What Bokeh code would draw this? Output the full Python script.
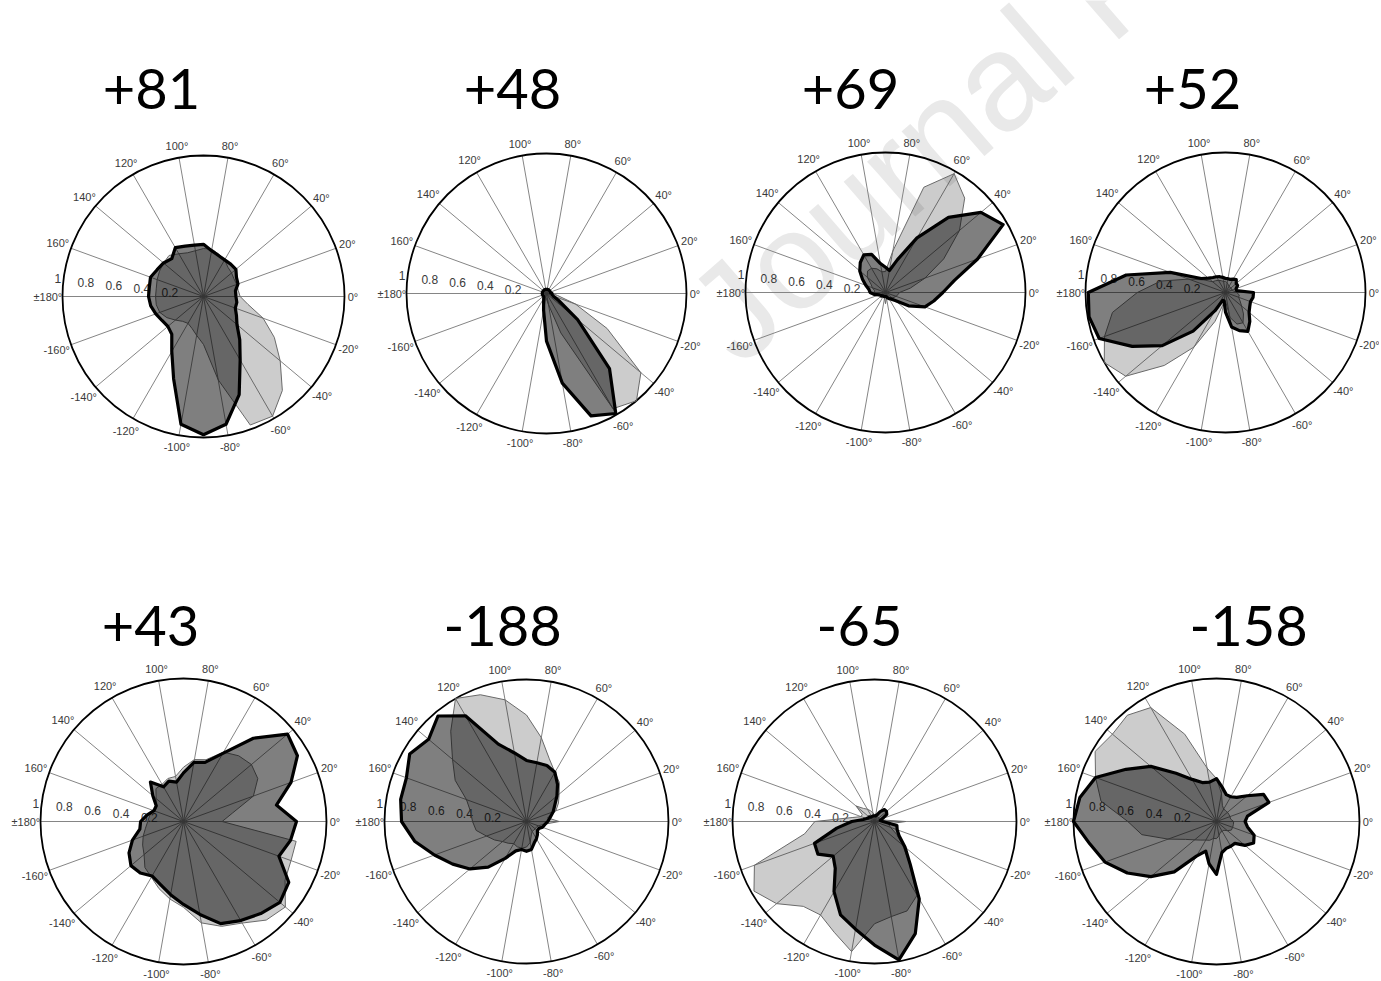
import math
from bokeh.plotting import figure
from bokeh.models import Range1d
from bokeh.embed import file_html
from bokeh.resources import INLINE
from bokeh.core.properties import value

# ---------------- data ----------------
ANGLES = list(range(-180, 180, 10))          # sample directions (deg)
GRID_ANGLES = list(range(-180, 180, 20))     # spokes (deg)
GRID_LABELS = ["±180°", "-160°", "-140°", "-120°", "-100°", "-80°", "-60°", "-40°", "-20°",
               "0°", "20°", "40°", "60°", "80°", "100°", "120°", "140°", "160°"]
R_TICKS = [0.2, 0.4, 0.6, 0.8, 1.0]
R_TICK_LABELS = ["0.2", "0.4", "0.6", "0.8", "1"]
TITLES = ["+81", "+48", "+69", "+52", "+43", "-188", "-65", "-158"]

LIGHT_P81 = [.34, .34, .33, .30, .26, .23, .22, .24, .28, .34, .60, .97, .98, .87, .71, .58, .45, .32,
             .26, .25, .25, .25, .26, .27, .30, .32, .34, .34, .33, .33, .35, .38, .37, .36, .35, .34]
DARK_P81 = [.39, .38, .36, .34, .33, .35, .45, .62, .92, .98, .92, .74, .52, .40, .31, .27, .24, .24,
            .23, .23, .26, .27, .30, .30, .30, .31, .33, .37, .37, .38, .40, .35, .37, .38, .40, .39]

LIGHT_P48 = [.03, .03, .03, .03, .03, .03, .03, .03, .03, .04, .08, .30, .95, 1.0, .88, .50, .22, .08,
             .04, .03, .03, .03, .03, .03, .03, .03, .03, .03, .03, .03, .03, .03, .03, .03, .03, .03]
DARK_P48 = [.03, .03, .03, .03, .03, .03, .04, .06, .12, .34, .65, .93, .99, .70, .29, .10, .05, .04,
            .04, .03, .03, .03, .03, .03, .03, .03, .03, .03, .03, .03, .03, .03, .03, .03, .03, .03]

LIGHT_P69 = [.08, .05, .04, .04, .04, .04, .04, .04, .04, .08, .04, .04, .04, .05, .06, .07, .08, .09,
             .10, .18, .30, .48, .69, .88, .98, .80, .30, .15, .15, .18, .20, .20, .17, .12, .10, .08]
DARK_P69 = [.11, .08, .05, .04, .04, .03, .03, .03, .03, .03, .03, .04, .05, .06, .09, .19, .30, .35,
            .41, .50, .70, .97, .89, .70, .45, .25, .16, .18, .21, .29, .31, .28, .24, .19, .15, .12]

LIGHT_P52 = [.63, .82, .92, 1.0, .93, .68, .45, .22, .08, .06, .18, .24, .25, .20, .15, .12, .10, .10,
             .08, .06, .05, .05, .05, .05, .05, .06, .07, .08, .08, .09, .10, .11, .12, .18, .28, .47]
DARK_P52 = [.98, .99, .96, .77, .59, .36, .15, .06, .06, .14, .25, .29, .32, .27, .22, .20, .19, .20,
            .20, .08, .08, .10, .10, .12, .11, .10, .10, .10, .11, .12, .13, .14, .16, .20, .42, .72]

LIGHT_P43 = [.25, .27, .30, .33, .36, .42, .45, .50, .55, .60, .72, .78, .82, .90, .93, .82, .80, .80,
             .27, .35, .52, .60, .62, .60, .56, .46, .44, .38, .32, .32, .30, .30, .25, .22, .22, .24]
DARK_P43 = [.30, .31, .38, .44, .48, .47, .44, .47, .52, .58, .66, .76, .80, .84, .88, .85, .71, .76,
            .79, .66, .80, .92, .95, .76, .55, .44, .42, .34, .28, .30, .28, .36, .28, .22, .22, .26]

LIGHT_M188 = [.38, .36, .30, .26, .22, .20, .18, .19, .19, .18, .15, .10, .08, .08, .08, .08, .09, .12,
              .23, .15, .22, .26, .30, .36, .40, .47, .60, .75, .87, .95, 1.0, .83, .68, .58, .45, .40]
DARK_M188 = [.88, .80, .69, .60, .52, .42, .30, .22, .20, .21, .20, .16, .14, .12, .10, .10, .12, .13,
             .15, .17, .20, .23, .28, .34, .40, .42, .42, .43, .49, .58, .86, .97, .90, .95, .90, .90]

LIGHT_M65 = [.42, .50, .90, .98, .90, .78, .76, .83, .93, .72, .68, .67, .60, .38, .26, .18, .12, .10,
             .22, .06, .04, .04, .04, .04, .04, .04, .04, .05, .06, .08, .10, .12, .17, .10, .10, .16]
DARK_M65 = [.16, .27, .45, .46, .38, .43, .57, .70, .77, .87, .99, .84, .63, .39, .28, .20, .17, .16,
            .06, .04, .06, .10, .11, .11, .08, .05, .04, .04, .04, .04, .04, .04, .05, .05, .06, .08]

LIGHT_M158 = [.62, .53, .36, .25, .20, .17, .15, .14, .12, .12, .10, .08, .08, .08, .10, .12, .12, .12,
              .12, .10, .10, .10, .10, .10, .10, .12, .20, .30, .38, .65, .92, .97, .95, .98, .90, .82]
DARK_M158 = [1.0, .90, .83, .72, .60, .46, .28, .22, .30, .37, .22, .20, .20, .20, .26, .30, .28, .22,
             .20, .22, .39, .38, .28, .22, .20, .20, .24, .30, .28, .29, .34, .44, .60, .73, .90, .97]

SERIES = [(LIGHT_P81, DARK_P81), (LIGHT_P48, DARK_P48), (LIGHT_P69, DARK_P69), (LIGHT_P52, DARK_P52),
          (LIGHT_P43, DARK_P43), (LIGHT_M188, DARK_M188), (LIGHT_M65, DARK_M65), (LIGHT_M158, DARK_M158)]

# ---------------- layout (page pixels) ----------------
W, H = 1379, 979
CENTERS = [(203, 296, 141), (546, 293, 140), (885, 292, 140), (1225, 292, 140),
           (183, 821, 143), (526, 821, 142), (874, 821, 142), (1216, 821, 143)]
TITLE_POS = [(151, 88), (512, 88), (850, 88), (1192, 88),
             (150, 625), (502, 625), (859, 625), (1248, 625)]

p = figure(width=W, height=H, x_range=Range1d(0, W), y_range=Range1d(-H, 0),
           output_backend="svg", toolbar_location=None, x_axis_type=None, y_axis_type=None,
           min_border=0)
p.grid.visible = False
p.outline_line_color = None
p.background_fill_color = "white"
p.border_fill_color = "white"

# faint watermark of the source document
p.text(x=[708], y=[-332], text=["Journal Pre-proof"], angle=math.radians(41),
       text_font=value("Liberation Sans"), text_font_size="138px", text_color="#e9e9e9",
       text_align="left", text_baseline="alphabetic")

CHAR_W = {"0": .556, "1": .556, "2": .556, "3": .556, "4": .556, "5": .556, "6": .556, "7": .556,
          "8": .556, "9": .556, "-": .333, "°": .4, "±": .584, ".": .278}


def text_w(s, size):
    return sum(CHAR_W.get(c, .556) for c in s) * size


def pol(cx, cy, R, r, deg):
    a = math.radians(deg)
    return cx + R * r * math.cos(a), -cy + R * r * math.sin(a)


for (cx, cy, R), (light, dark), title, (tx, ty) in zip(CENTERS, SERIES, TITLES, TITLE_POS):
    # spokes
    x0s, y0s, x1s, y1s = [], [], [], []
    for a in GRID_ANGLES:
        x1, y1 = pol(cx, cy, R, 1.0, a)
        x0s.append(cx); y0s.append(-cy); x1s.append(x1); y1s.append(y1)
    p.segment(x0=x0s, y0=y0s, x1=x1s, y1=y1s, line_color="#858585", line_width=1)
    # outer circle
    p.circle(x=[cx], y=[-cy], radius=R, fill_color=None, line_color="black", line_width=1.8)
    # angle labels
    lx, ly = [], []
    for a, lab in zip(GRID_ANGLES, GRID_LABELS):
        w = text_w(lab, 11)
        rad = math.radians(a)
        off = 5 + 0.33 * w * abs(math.cos(rad)) + 0.52 * 11 * abs(math.sin(rad))
        x, y = pol(cx, cy, R, 1 + off / R, a)
        lx.append(x); ly.append(y)
    p.text(x=lx, y=ly, text=GRID_LABELS, text_font=value("Liberation Sans"), text_font_size="11px",
           text_color="#3a3a3a", text_align="center", text_baseline="middle")
    # radial labels
    rx, ry = [], []
    for v in R_TICKS:
        x, y = pol(cx, cy, R, v + 0.04, 173)
        rx.append(x); ry.append(y)
    p.text(x=rx, y=ry, text=R_TICK_LABELS, text_font=value("Liberation Sans"), text_font_size="12px",
           text_color="#3a3a3a", text_align="center", text_baseline="middle")
    # series polygons
    pts_l = [pol(cx, cy, R, r, a) for r, a in zip(light, ANGLES)]
    pts_d = [pol(cx, cy, R, r, a) for r, a in zip(dark, ANGLES)]
    p.patch(x=[q[0] for q in pts_l], y=[q[1] for q in pts_l], fill_color="black", fill_alpha=0.2,
            line_color="#6a6a6a", line_width=1, line_join="round")
    p.patch(x=[q[0] for q in pts_d], y=[q[1] for q in pts_d], fill_color="black", fill_alpha=0.5,
            line_color="black", line_width=3.2, line_join="round")
    # title
    p.text(x=[tx], y=[-ty], text=[title], text_font=value("Lato"), text_font_size="56px",
           text_color="black", text_align="center", text_baseline="alphabetic")

open("out.html", "w").write(file_html(p, INLINE))
